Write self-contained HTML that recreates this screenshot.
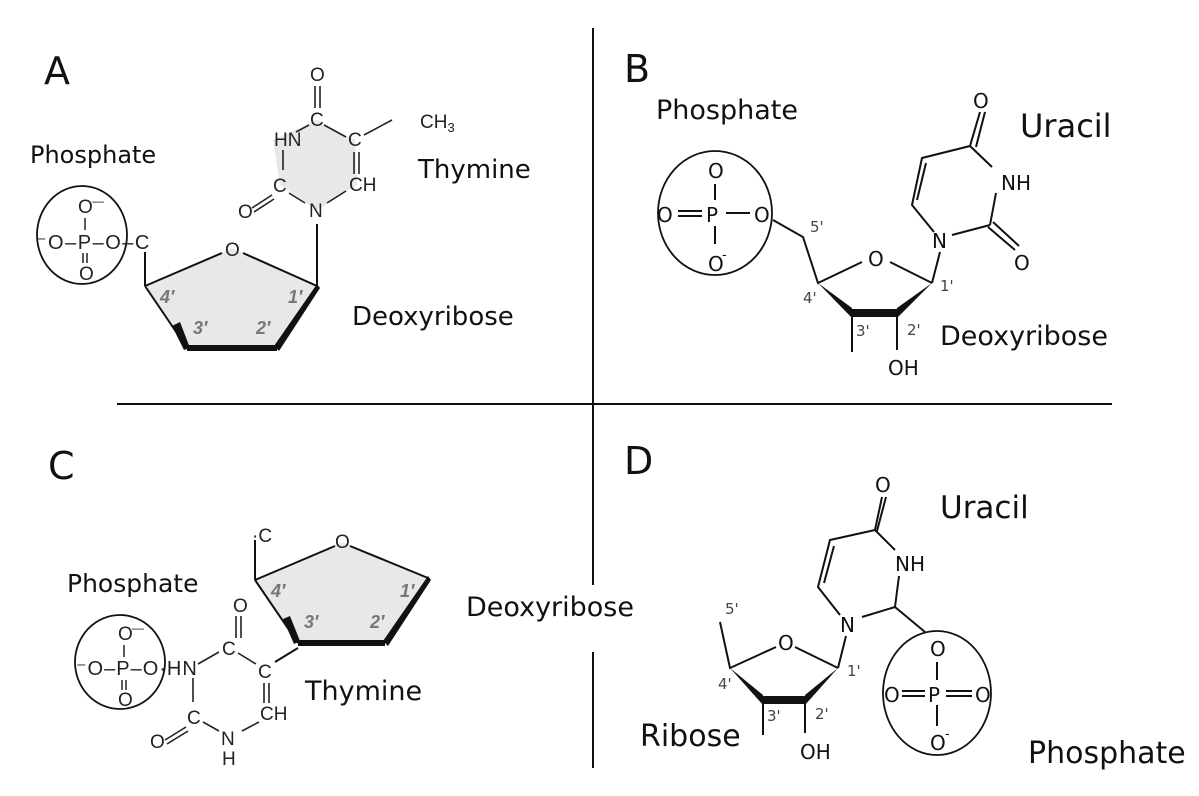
<!DOCTYPE html>
<html><head><meta charset="utf-8"><style>
html,body{margin:0;padding:0;background:#fff;}
svg{display:block;}
.L{font-family:"DejaVu Sans","Liberation Sans",sans-serif;fill:#111;}
.B{font-family:"DejaVu Sans","Liberation Sans",sans-serif;font-size:38px;fill:#111;}
.c{font-family:"Liberation Sans",sans-serif;fill:#222;}
.g{font-family:"Liberation Sans",sans-serif;font-size:18px;font-weight:bold;fill:#777;font-style:italic;}
.n{font-family:"DejaVu Sans","Liberation Sans",sans-serif;font-size:15px;fill:#444;}
.m{font-family:"DejaVu Sans","Liberation Sans",sans-serif;fill:#111;}
</style></head><body>
<svg width="1199" height="796" viewBox="0 0 1199 796" xmlns="http://www.w3.org/2000/svg" font-size="19">
<g stroke="#111" stroke-width="2" fill="none">
<line x1="593" y1="28" x2="593" y2="585"/>
<line x1="593" y1="652" x2="593" y2="768"/>
<line x1="117" y1="404" x2="1112" y2="404"/>
</g>
<!-- Panel A -->
<text class="B" x="44" y="84">A</text>
<text class="L" x="30" y="163" style="font-size:24px">Phosphate</text>
<text class="L" x="418" y="178" style="font-size:26px">Thymine</text>
<text class="L" x="352" y="325" style="font-size:26px">Deoxyribose</text>
<polygon points="273,140 317,120 355,140 357,185 317,210 280,185" fill="#e8e8e8" stroke="none"/>
<ellipse cx="82" cy="235" rx="45" ry="49" fill="none" stroke="#111" stroke-width="1.8"/>
<text class="c" x="78" y="213">O</text><text class="c" x="92" y="205" style="font-size:12px">—</text>
<text class="c" x="36" y="249" style="font-size:20px;letter-spacing:1.5px">⁻O–P–O–C</text>
<line x1="85" y1="218" x2="85" y2="230" stroke="#222" stroke-width="1.5"/>
<line x1="83" y1="253" x2="83" y2="263" stroke="#222" stroke-width="1.5"/><line x1="87" y1="253" x2="87" y2="263" stroke="#222" stroke-width="1.5"/>
<text class="c" x="79" y="280">O</text>
<polygon points="145,286 232,248 317,286 277,348 187,348" fill="#e8e8e8" stroke="none"/>
<g stroke="#111" stroke-width="2" fill="none">
<line x1="145" y1="252" x2="145" y2="286"/>
<polyline points="145,286 222,253"/><polyline points="243,253 317,286"/>
<line x1="317" y1="286" x2="317" y2="224"/>
<line x1="145" y1="286" x2="187" y2="348"/>
</g>
<text class="c" x="225" y="256">O</text>
<line x1="187" y1="348" x2="277" y2="348" stroke="#111" stroke-width="6"/>
<polygon points="317,284 320,288 279,351 274,346" fill="#111"/>
<polygon points="172,326 180,322 190,348 184,350" fill="#111"/>
<text class="c" x="309" y="217">N</text>
<text class="c" x="273" y="192">C</text>
<text class="c" x="274" y="146">HN</text>
<text class="c" x="310" y="126">C</text>
<text class="c" x="310" y="81">O</text>
<text class="c" x="348" y="146">C</text>
<text class="c" x="349" y="191">CH</text>
<text class="c" x="238" y="218">O</text>
<text class="c" x="420" y="128">CH<tspan style="font-size:13px" dy="4">3</tspan></text>
<g stroke="#222" stroke-width="1.6" fill="none">
<line x1="296" y1="132" x2="309" y2="125"/>
<line x1="283" y1="150" x2="283" y2="170"/>
<line x1="289" y1="193" x2="305" y2="203"/>
<line x1="327" y1="203" x2="346" y2="191"/>
<line x1="354" y1="152" x2="354" y2="174"/><line x1="359" y1="152" x2="359" y2="174"/>
<line x1="324" y1="125" x2="346" y2="137"/>
<line x1="364" y1="135" x2="392" y2="120"/>
<line x1="315" y1="86" x2="315" y2="108"/><line x1="320" y1="86" x2="320" y2="108"/>
<line x1="252" y1="208" x2="272" y2="195"/><line x1="254" y1="212" x2="274" y2="199"/>
</g>
<text class="g" x="160" y="303">4′</text><text class="g" x="288" y="303">1′</text>
<text class="g" x="193" y="334">3′</text><text class="g" x="256" y="334">2′</text>

<!-- Panel B -->
<text class="B" x="624" y="82">B</text>
<text class="L" x="656" y="119" style="font-size:27px">Phosphate</text>
<text class="L" x="1020" y="137" style="font-size:32px">Uracil</text>
<text class="L" x="940" y="345" style="font-size:27px">Deoxyribose</text>
<ellipse cx="715" cy="213" rx="57" ry="62" fill="none" stroke="#111" stroke-width="1.8"/>
<g class="m" style="font-size:20px">
<text x="708" y="178">O</text><text x="706" y="222">P</text>
<text x="657" y="222">O</text><text x="754" y="222">O</text>
<text x="708" y="271">O</text><text x="722" y="259" style="font-size:13px">-</text>
<text x="868" y="266">O</text>
<text x="932" y="248">N</text>
<text x="973" y="108">O</text>
<text x="1001" y="190">NH</text>
<text x="1014" y="270">O</text>
<text x="888" y="375">OH</text>
</g>
<g stroke="#111" stroke-width="2" fill="none">
<line x1="715" y1="184" x2="715" y2="200"/><line x1="715" y1="226" x2="715" y2="244"/>
<line x1="678" y1="211" x2="702" y2="211"/><line x1="678" y1="216" x2="702" y2="216"/>
<line x1="726" y1="213" x2="750" y2="213"/>
<polyline points="773,220 803,237 818,283 862,262"/>
<line x1="890" y1="262" x2="932" y2="283"/>
<line x1="932" y1="283" x2="940" y2="252"/>
<line x1="852" y1="313" x2="852" y2="352"/><line x1="897" y1="313" x2="897" y2="350"/>
<polyline points="934,232 912,205 922,158 970,146 980,112"/>
<line x1="917" y1="200" x2="926" y2="163"/>
<line x1="970" y1="146" x2="992" y2="167"/>
<line x1="996" y1="193" x2="990" y2="225"/>
<line x1="952" y1="235" x2="990" y2="225"/>
<line x1="988" y1="227" x2="1015" y2="250"/><line x1="993" y1="222" x2="1019" y2="246"/>
</g>
<line x1="976" y1="147" x2="985" y2="112" stroke="#111" stroke-width="2"/>
<polygon points="818,283 852,308 852,318" fill="#111"/>
<polygon points="932,283 897,308 897,318" fill="#111"/>
<line x1="852" y1="313" x2="897" y2="313" stroke="#111" stroke-width="8"/>
<text class="n" x="810" y="232">5'</text><text class="n" x="803" y="303">4'</text>
<text class="n" x="940" y="291">1'</text><text class="n" x="856" y="336">3'</text><text class="n" x="907" y="335">2'</text>

<!-- Panel C -->
<text class="B" x="48" y="479">C</text>
<text class="L" x="67" y="592" style="font-size:25px">Phosphate</text>
<text class="L" x="305" y="700" style="font-size:27px">Thymine</text>
<text class="L" x="466" y="616" style="font-size:27px">Deoxyribose</text>
<ellipse cx="120" cy="662" rx="45" ry="47" fill="none" stroke="#111" stroke-width="1.8"/>
<text class="c" x="118" y="640">O</text><text class="c" x="132" y="632" style="font-size:12px">—</text>
<line x1="124" y1="645" x2="124" y2="657" stroke="#222" stroke-width="1.5"/>
<text class="c" x="76" y="675" style="font-size:20px;letter-spacing:1px">⁻O–P–O·HN</text>
<line x1="122" y1="680" x2="122" y2="690" stroke="#222" stroke-width="1.5"/><line x1="126" y1="680" x2="126" y2="690" stroke="#222" stroke-width="1.5"/>
<text class="c" x="118" y="706">O</text>
<polygon points="255,580 342,542 428,578 385,643 298,643" fill="#e8e8e8"/>
<g stroke="#111" stroke-width="2" fill="none">
<line x1="255" y1="540" x2="255" y2="580"/>
<line x1="255" y1="580" x2="335" y2="546"/><line x1="350" y1="546" x2="428" y2="578"/>
<line x1="255" y1="580" x2="298" y2="643"/>
<line x1="298" y1="648" x2="275" y2="662"/>
</g>
<line x1="298" y1="643" x2="385" y2="643" stroke="#111" stroke-width="6"/>
<polygon points="428,576 431,580 388,646 383,641" fill="#111"/>
<polygon points="283,619 290,616 300,641 294,644" fill="#111"/>
<text class="c" x="252" y="542">·C</text>
<text class="c" x="335" y="548">O</text>
<text class="g" x="271" y="597">4′</text><text class="g" x="400" y="597">1′</text>
<text class="g" x="304" y="628">3′</text><text class="g" x="370" y="628">2′</text>
<text class="c" x="233" y="612">O</text>
<text class="c" x="222" y="655">C</text>
<text class="c" x="258" y="678">C</text>
<text class="c" x="260" y="720">CH</text>
<text class="c" x="221" y="745">N</text>
<text class="c" x="222" y="765">H</text>
<text class="c" x="187" y="724">C</text>
<text class="c" x="150" y="748">O</text>
<g stroke="#222" stroke-width="1.6" fill="none">
<line x1="236" y1="616" x2="236" y2="638"/><line x1="241" y1="616" x2="241" y2="638"/>
<line x1="198" y1="664" x2="219" y2="652"/>
<line x1="193" y1="678" x2="193" y2="702"/>
<line x1="203" y1="722" x2="219" y2="731"/>
<line x1="242" y1="731" x2="259" y2="722"/>
<line x1="264" y1="683" x2="264" y2="703"/><line x1="269" y1="683" x2="269" y2="703"/>
<line x1="238" y1="653" x2="256" y2="664"/>
<line x1="165" y1="740" x2="186" y2="727"/><line x1="167" y1="744" x2="188" y2="731"/>
</g>

<!-- Panel D -->
<text class="B" x="624" y="474">D</text>
<text class="L" x="940" y="518" style="font-size:31px">Uracil</text>
<text class="L" x="640" y="746" style="font-size:30px">Ribose</text>
<text class="L" x="1028" y="763" style="font-size:30px">Phosphate</text>
<ellipse cx="937" cy="693" rx="54" ry="62" fill="none" stroke="#111" stroke-width="1.8"/>
<g class="m" style="font-size:20px">
<text x="930" y="656">O</text><text x="928" y="702">P</text>
<text x="884" y="702">O</text><text x="975" y="702">O</text>
<text x="930" y="750">O</text><text x="945" y="738" style="font-size:13px">-</text>
<text x="778" y="650">O</text>
<text x="840" y="632">N</text>
<text x="875" y="492">O</text>
<text x="895" y="571">NH</text>
<text x="800" y="759">OH</text>
</g>
<g stroke="#111" stroke-width="2" fill="none">
<line x1="937" y1="662" x2="937" y2="680"/><line x1="937" y1="705" x2="937" y2="726"/>
<line x1="902" y1="691" x2="925" y2="691"/><line x1="902" y1="696" x2="925" y2="696"/>
<line x1="946" y1="691" x2="972" y2="691"/><line x1="946" y1="696" x2="972" y2="696"/>
<polyline points="720,622 730,668 776,647"/>
<line x1="795" y1="647" x2="838" y2="668"/>
<line x1="838" y1="668" x2="846" y2="636"/>
<line x1="763" y1="700" x2="763" y2="735"/><line x1="805" y1="700" x2="805" y2="733"/>
<polyline points="840,615 818,587 830,540 875,530 882,497"/>
<line x1="824" y1="583" x2="834" y2="546"/>
<line x1="875" y1="530" x2="895" y2="550"/>
<line x1="899" y1="576" x2="895" y2="607"/>
<line x1="862" y1="617" x2="895" y2="607"/>
<line x1="895" y1="607" x2="925" y2="632"/>
</g>
<line x1="877" y1="531" x2="886" y2="497" stroke="#111" stroke-width="2"/>
<polygon points="730,668 763,695 763,705" fill="#111"/>
<polygon points="838,668 805,695 805,705" fill="#111"/>
<line x1="763" y1="700" x2="805" y2="700" stroke="#111" stroke-width="8"/>
<text class="n" x="725" y="614">5'</text><text class="n" x="718" y="689">4'</text>
<text class="n" x="847" y="676">1'</text><text class="n" x="767" y="721">3'</text><text class="n" x="815" y="719">2'</text>
</svg>
</body></html>
